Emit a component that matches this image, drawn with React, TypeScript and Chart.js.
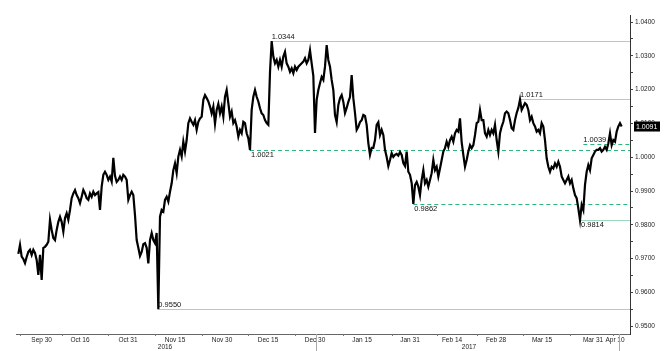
import React, { useEffect, useRef } from 'react';
import { Chart, registerables } from 'chart.js';

Chart.register(...registerables);

// Price samples (EUR/CHF-style quote), one every sample step, starting at sample index FIRST_SAMPLE
const FIRST_SAMPLE = 2;
const prices = [
  0.9714, 0.9741, 0.9706, 0.9699, 0.9687, 0.9705, 0.9720, 0.9726, 0.9711, 0.9726,
  0.9717, 0.9696, 0.9652, 0.9711, 0.9637, 0.9732, 0.9735, 0.9741, 0.9750, 0.9815,
  0.9785, 0.9761, 0.9755, 0.9785, 0.9809, 0.9824, 0.9809, 0.9780, 0.9820, 0.9834,
  0.9815, 0.9844, 0.9879, 0.9893, 0.9903, 0.9888, 0.9879, 0.9864, 0.9883, 0.9903,
  0.9893, 0.9879, 0.9874, 0.9893, 0.9883, 0.9898, 0.9888, 0.9893, 0.9897, 0.9844,
  0.9913, 0.9948, 0.9957, 0.9948, 0.9933, 0.9943, 0.9928, 0.9998, 0.9945, 0.9927,
  0.9933, 0.9943, 0.9933, 0.9948, 0.9943, 0.9933, 0.9874, 0.9888, 0.9898, 0.9888,
  0.9829, 0.9755, 0.9732, 0.9708, 0.9720, 0.9743, 0.9746, 0.9732, 0.9686, 0.9755,
  0.9776, 0.9755, 0.9746, 0.9776, 0.9550, 0.9824, 0.9844, 0.9839, 0.9874, 0.9883,
  0.9869, 0.9898, 0.9923, 0.9962, 0.9982, 0.9953, 1.0002, 1.0022, 1.0002, 1.0046,
  1.0017, 1.0051, 1.0101, 1.0115, 1.0105, 1.0096, 1.0110, 1.0081, 1.0105, 1.0115,
  1.0120, 1.0170, 1.0184, 1.0175, 1.0165, 1.0150, 1.0130, 1.0150, 1.0099, 1.0140,
  1.0158, 1.0130, 1.0150, 1.0120, 1.0179, 1.0199, 1.0160, 1.0120, 1.0135, 1.0101,
  1.0110, 1.0091, 1.0061, 1.0081, 1.0071, 1.0105, 1.0101, 1.0071, 1.0056, 1.0021,
  1.0140, 1.0179, 1.0199, 1.0179, 1.0165, 1.0145, 1.0130, 1.0125, 1.0110, 1.0101,
  1.0096, 1.0252, 1.0344, 1.0298, 1.0278, 1.0288, 1.0268, 1.0288, 1.0268, 1.0298,
  1.0312, 1.0278, 1.0268, 1.0253, 1.0263, 1.0249, 1.0268, 1.0258, 1.0268, 1.0273,
  1.0278, 1.0283, 1.0293, 1.0278, 1.0288, 1.0317, 1.0278, 1.0241, 1.0072, 1.0170,
  1.0199, 1.0219, 1.0238, 1.0229, 1.0268, 1.0332, 1.0288, 1.0268, 1.0229, 1.0199,
  1.0125, 1.0104, 1.0155, 1.0175, 1.0184, 1.0164, 1.0131, 1.0146, 1.0164, 1.0178,
  1.0243, 1.0175, 1.0131, 1.0081, 1.0090, 1.0104, 1.0110, 1.0125, 1.0122, 1.0096,
  1.0042, 1.0007, 1.0028, 1.0028, 1.0051, 1.0096, 1.0104, 1.0066, 1.0081, 1.0066,
  1.0022, 1.0001, 0.9974, 0.9992, 1.0012, 1.0001, 1.0007, 1.0010, 1.0005, 1.0016,
  1.0007, 0.9983, 0.9974, 1.0017, 0.9957, 0.9948, 0.9924, 0.9862, 0.9918, 0.9927,
  0.9913, 0.9888, 0.9933, 0.9962, 0.9923, 0.9933, 0.9913, 0.9933, 0.9953, 0.9992,
  0.9962, 0.9972, 0.9943, 0.9967, 0.9992, 1.0017, 1.0027, 1.0046, 1.0031, 1.0051,
  1.0061, 1.0046, 1.0071, 1.0081, 1.0076, 1.0115, 1.0045, 1.0007, 0.9972, 0.9992,
  1.0017, 1.0036, 1.0027, 1.0036, 1.0066, 1.0101, 1.0105, 1.0140, 1.0110, 1.0110,
  1.0071, 1.0061, 1.0081, 1.0066, 1.0081, 1.0071, 1.0096, 1.0051, 1.0017, 1.0071,
  1.0091, 1.0105, 1.0130, 1.0135, 1.0130, 1.0110, 1.0086, 1.0081, 1.0110, 1.0131,
  1.0146, 1.0171, 1.0140, 1.0150, 1.0160, 1.0155, 1.0140, 1.0110, 1.0120, 1.0101,
  1.0091, 1.0076, 1.0081, 1.0071, 1.0101, 1.0091, 1.0051, 0.9997, 0.9972, 0.9957,
  0.9972, 0.9967, 0.9982, 0.9972, 0.9987, 0.9972, 0.9943, 0.9933, 0.9923, 0.9933,
  0.9943, 0.9923, 0.9933, 0.9908, 0.9888, 0.9879, 0.9849, 0.9814, 0.9859, 0.9844,
  0.9918, 0.9957, 0.9977, 0.9962, 0.9997, 1.0007, 1.0017, 1.0022, 1.0022, 1.0027,
  1.0017, 1.0022, 1.0031, 1.0022, 1.0041, 1.0071, 1.0036, 1.0051, 1.0046, 1.0076,
  1.0091, 1.0101, 1.0091,
];

// X axis (sample index) labels
const xTickPositions = [16, 39, 67.8, 96, 124.2, 151.8, 180, 208.2, 237, 262.2, 288.6, 316.2, 346.8, 360];
const xTickLabels = ['Sep 30', 'Oct 16', 'Oct 31', 'Nov 15', 'Nov 30', 'Dec 15', 'Dec 30', 'Jan 15', 'Jan 31', 'Feb 14', 'Feb 28', 'Mar 15', 'Mar 31', 'Apr 10'];
const yearPositions = [90, 272.4];
const yearLabels = ['2016', '2017'];
const xLongTicks = [180.6, 362.4];
const xMinorTicks = [3, 28.2, 55.8, 84, 112.2, 139.8, 168, 196.8, 226.2, 253.2, 277.2, 304.8, 333, 358.8];
const X_MIN = 0.6;
const X_MAX = 369;

// Y axis
const yTickValues = [0.95, 0.955, 0.96, 0.965, 0.97, 0.975, 0.98, 0.985, 0.99, 0.995, 1.0, 1.005, 1.01, 1.015, 1.02, 1.025, 1.03, 1.035, 1.04];
const Y_MIN = 0.9477;
const Y_MAX = 1.0421;

// Marked levels
const levelValues = [1.0344, 1.0171, 1.0039, 1.0021, 0.9862, 0.9814, 0.9550];
const levelStarts = [154, 303, 341, 141, 239, 339, 86];
const levelDashed = [false, false, true, true, true, false, false];
const levelLabelAbove = [true, true, true, false, false, false, true];
const lastPrice = 1.0091;

const FONT = '"Liberation Sans", Arial, sans-serif';

const overlayPlugin = {
  id: 'overlay',
  beforeDatasetsDraw(chart: any) {
    const { ctx, chartArea, scales } = chart;
    const x = scales.x;
    const y = scales.y;
    ctx.save();
    levelValues.forEach((v, i) => {
      const py = Math.round(y.getPixelForValue(v)) + 0.5;
      const px = x.getPixelForValue(levelStarts[i]);
      ctx.beginPath();
      ctx.lineWidth = 1;
      if (levelDashed[i]) {
        ctx.setLineDash([4, 3]);
        ctx.strokeStyle = '#2fb57c';
      } else {
        ctx.setLineDash([]);
        ctx.strokeStyle = '#9cd8bd';
      }
      ctx.moveTo(px, py);
      ctx.lineTo(chartArea.right, py);
      ctx.stroke();
    });
    ctx.restore();
  },
  afterDatasetsDraw(chart: any) {
    const { ctx, scales } = chart;
    const x = scales.x;
    const y = scales.y;
    ctx.save();
    ctx.font = '7.5px ' + FONT;
    ctx.fillStyle = '#111';
    ctx.textAlign = 'left';
    levelValues.forEach((v, i) => {
      const py = y.getPixelForValue(v);
      const px = x.getPixelForValue(levelStarts[i]);
      if (levelLabelAbove[i]) {
        ctx.textBaseline = 'bottom';
        ctx.fillText(v.toFixed(4), px, py - 0.5);
      } else {
        ctx.textBaseline = 'top';
        ctx.fillText(v.toFixed(4), px + 1, py + 1.5);
      }
    });
    ctx.restore();
  },
  afterDraw(chart: any) {
    const { ctx, chartArea, scales, height } = chart;
    const x = scales.x;
    const y = scales.y;
    ctx.save();
    // minor ticks on x axis
    ctx.strokeStyle = '#777';
    ctx.lineWidth = 1;
    xMinorTicks.forEach((k) => {
      const px = Math.round(x.getPixelForValue(k)) + 0.5;
      ctx.beginPath();
      ctx.moveTo(px, chartArea.bottom);
      ctx.lineTo(px, chartArea.bottom + 2);
      ctx.stroke();
    });
    ctx.strokeStyle = '#aaa';
    xLongTicks.forEach((k) => {
      const px = Math.round(x.getPixelForValue(k)) + 0.5;
      ctx.beginPath();
      ctx.moveTo(px, chartArea.bottom);
      ctx.lineTo(px, height);
      ctx.stroke();
    });
    // year labels
    ctx.font = '6.5px ' + FONT;
    ctx.fillStyle = '#222';
    ctx.textAlign = 'center';
    ctx.textBaseline = 'middle';
    yearPositions.forEach((k, i) => {
      ctx.fillText(yearLabels[i], x.getPixelForValue(k), chartArea.bottom + 13);
    });
    // last price tag
    const py = y.getPixelForValue(lastPrice);
    ctx.fillStyle = '#000';
    ctx.fillRect(chartArea.right + 4, py - 5, 26, 10);
    ctx.fillStyle = '#fff';
    ctx.font = '7px ' + FONT;
    ctx.textAlign = 'left';
    ctx.fillText(lastPrice.toFixed(4), chartArea.right + 6, py + 0.5);
    ctx.restore();
  },
};

export default function App() {
  const canvasRef = useRef<HTMLCanvasElement | null>(null);

  useEffect(() => {
    document.body.style.margin = '0';
    const canvas = canvasRef.current;
    if (!canvas) return;
    const points = prices.map((p, i) => ({ x: FIRST_SAMPLE + i, y: p }));
    const chart = new Chart(canvas, {
      type: 'line',
      data: {
        datasets: [
          {
            data: points,
            borderColor: '#000',
            borderWidth: 2.2,
            pointRadius: 0,
            tension: 0,
            fill: false,
          },
        ],
      },
      options: {
        animation: false,
        responsive: false,
        devicePixelRatio: 1,
        layout: { padding: { left: 16, top: 15, right: 0, bottom: 0 } },
        plugins: { legend: { display: false }, tooltip: { enabled: false } },
        scales: {
          x: {
            type: 'linear',
            min: X_MIN,
            max: X_MAX,
            afterBuildTicks: (scale: any) => {
              scale.ticks = xTickPositions.map((v) => ({ value: v }));
            },
            afterFit: (scale: any) => {
              scale.height = 17;
            },
            ticks: {
              autoSkip: false,
              maxRotation: 0,
              padding: 2,
              font: { size: 6.5, family: FONT },
              color: '#222',
              callback: (value: any) => {
                const idx = xTickPositions.indexOf(Number(value));
                return idx >= 0 ? xTickLabels[idx] : '';
              },
            },
            grid: { display: false, drawTicks: false },
            border: { display: true, color: '#666' },
          },
          y: {
            type: 'linear',
            position: 'right',
            min: Y_MIN,
            max: Y_MAX,
            afterBuildTicks: (scale: any) => {
              scale.ticks = yTickValues.map((v) => ({ value: v }));
            },
            afterFit: (scale: any) => {
              scale.width = 36;
            },
            ticks: {
              autoSkip: false,
              padding: 2,
              font: { size: 6.5, family: FONT },
              color: '#222',
              callback: (value: any) => {
                const v = Number(value);
                const major = Math.abs(Math.round(v * 100) - v * 100) < 1e-6;
                return major ? v.toFixed(4) : '';
              },
            },
            grid: { drawOnChartArea: false, drawTicks: true, tickLength: 3, tickColor: '#444' },
            border: { display: true, color: '#333' },
          },
        },
      },
      plugins: [overlayPlugin],
    });
    return () => chart.destroy();
  }, []);

  return (
    <div style={{ position: 'absolute', left: 0, top: 0, width: 666, height: 351, background: '#fff' }}>
      <canvas ref={canvasRef} width={666} height={351} style={{ width: 666, height: 351, display: 'block' }} />
    </div>
  );
}
